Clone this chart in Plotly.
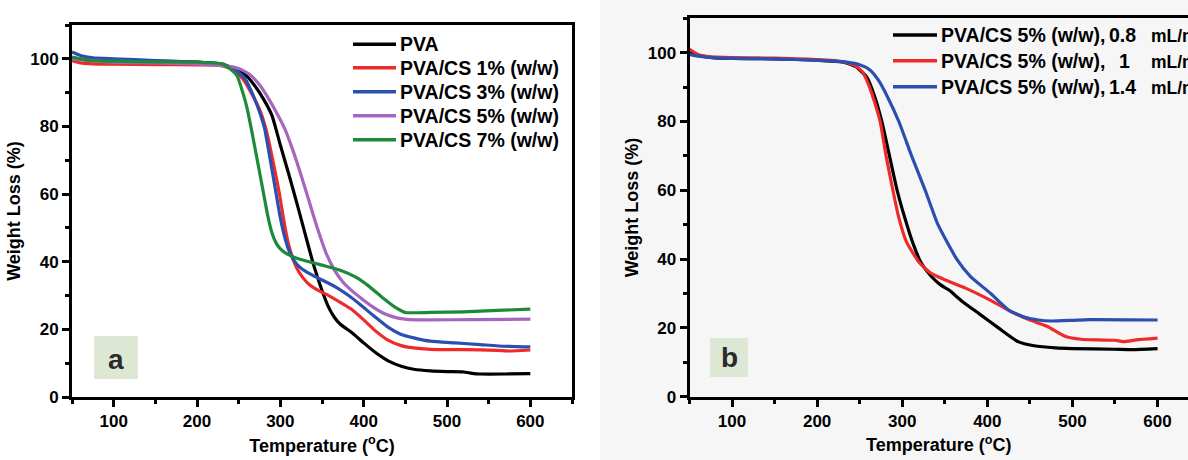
import plotly.graph_objects as go

# ---- Panel (a): TGA curves of PVA and PVA/CS films ----
T_pva = [50, 70, 100, 150, 200, 225, 240, 250, 260, 270, 280, 290, 300, 310, 320, 330, 340, 350,
         358, 365, 372, 386, 400, 415, 430, 446, 460, 480, 500, 520, 530, 540, 570, 600]
W_pva = [100.2, 99.7, 99.5, 99.3, 99.0, 98.5, 97.6, 96.6, 94.8, 91.8, 88.0, 83.2, 74.5, 66.0, 57.2,
         48.0, 39.0, 31.5, 26.5, 23.5, 21.5, 19.0, 16.0, 13.0, 10.6, 9.0, 8.2, 7.7, 7.5, 7.4, 7.0,
         6.8, 6.8, 6.9]

T_cs1 = [50, 60, 75, 100, 150, 200, 230, 245, 255, 265, 276, 283, 291, 299, 305, 310, 315, 320,
         327, 335, 345, 358, 372, 385, 400, 412, 428, 445, 460, 480, 520, 560, 575, 600]
W_cs1 = [99.5, 98.8, 98.5, 98.4, 98.3, 98.2, 98.0, 96.5, 94.0, 90.0, 84.5, 79.0, 70.0, 60.0, 51.0,
         45.0, 41.0, 38.0, 35.3, 33.2, 31.6, 30.0, 28.0, 26.0, 22.8, 20.0, 17.0, 15.2, 14.5, 14.1,
         14.0, 13.8, 13.6, 13.9]

T_cs3 = [50, 60, 75, 100, 150, 200, 230, 245, 258, 266, 274, 281, 288, 295, 300, 305, 310, 316,
         323, 330, 340, 355, 370, 382, 395, 412, 430, 445, 460, 480, 510, 540, 570, 600]
W_cs3 = [102.0, 101.0, 100.3, 100.0, 99.5, 99.0, 98.5, 97.0, 94.0, 90.0, 85.0, 79.5, 70.0, 60.0,
         53.0, 47.5, 43.5, 40.5, 38.5, 37.2, 35.8, 34.0, 32.0, 30.0, 27.5, 24.0, 20.5, 18.5, 17.5,
         16.5, 16.0, 15.5, 15.0, 14.8]

T_cs5 = [50, 100, 150, 200, 230, 245, 255, 265, 275, 285, 295, 305, 315, 325, 335, 345, 355, 365,
         375, 385, 395, 410, 425, 440, 455, 480, 530, 600]
W_cs5 = [100.0, 99.0, 98.8, 98.5, 98.0, 97.5, 96.6, 95.0, 92.3, 88.6, 84.3, 79.5, 73.0, 65.5, 57.5,
         49.5, 42.5, 37.5, 34.0, 31.6, 29.6, 26.8, 24.6, 23.4, 22.9, 22.8, 22.9, 23.0]

T_cs7 = [50, 70, 100, 150, 200, 230, 240, 248, 255, 260, 265, 272, 280, 285, 290, 295, 300, 308,
         318, 330, 350, 372, 390, 405, 422, 438, 450, 480, 520, 560, 600]
W_cs7 = [100.5, 99.5, 99.3, 99.1, 99.0, 98.5, 97.0, 95.0, 90.0, 85.5, 79.5, 70.5, 60.0, 53.5, 48.5,
         45.5, 43.8, 42.3, 41.2, 40.3, 39.0, 37.5, 35.5, 33.0, 29.5, 26.5, 25.0, 25.0, 25.2, 25.6,
         26.0]

# ---- Panel (b): PVA/CS 5% (w/w) at different flow rates ----
T_f08 = [50, 65, 80, 150, 200, 230, 245, 258, 268, 276, 285, 294, 303, 312, 322, 334, 345, 355,
         369, 391, 413, 436, 455, 480, 500, 550, 570, 600]
W_f08 = [100.0, 99.0, 98.5, 98.2, 97.8, 97.3, 96.0, 93.0, 87.0, 80.0, 70.0, 60.0, 52.0, 45.0, 39.0,
         35.0, 32.5, 31.0, 28.0, 24.0, 20.0, 16.0, 14.8, 14.2, 14.0, 13.8, 13.7, 14.0]

T_f10 = [50, 60, 75, 150, 200, 230, 245, 253, 260, 267, 274, 281, 289, 296, 305, 320, 333, 350,
         375, 400, 426, 448, 470, 492, 510, 530, 550, 560, 575, 600]
W_f10 = [101.0, 99.5, 98.8, 98.4, 98.0, 97.4, 96.2, 94.5, 91.0, 86.0, 80.0, 70.0, 60.0, 52.0, 45.0,
         39.0, 36.0, 34.0, 31.5, 28.5, 25.0, 22.5, 20.5, 17.5, 16.7, 16.5, 16.4, 16.0, 16.5, 17.0]

T_f14 = [50, 60, 80, 150, 200, 230, 250, 262, 272, 283, 296, 311, 327, 342, 364, 380, 404, 426,
         445, 460, 475, 500, 520, 600]
W_f14 = [99.5, 99.0, 98.5, 98.2, 97.8, 97.4, 96.5, 95.0, 92.0, 87.0, 80.0, 70.0, 60.0, 50.0, 40.0,
         35.0, 30.0, 25.0, 23.0, 22.3, 22.0, 22.2, 22.4, 22.3]

names_a = ["PVA", "PVA/CS 1% (w/w)", "PVA/CS 3% (w/w)", "PVA/CS 5% (w/w)", "PVA/CS 7% (w/w)"]
names_b_head = ["PVA/CS 5% (w/w),", "PVA/CS 5% (w/w),", "PVA/CS 5% (w/w),"]
flow_labels = ["0.8", "1", "1.4"]
flow_unit = "mL/min"

colors_a = ["#000000", "#ee2a2a", "#2a4fb0", "#a566bf", "#1d8a3a"]
colors_b = ["#000000", "#ee2a2a", "#2a4fb0"]

W, H = 1188, 460
FONT = "Liberation Sans, Arial, sans-serif"


def px(x):
    return x / W


def py(y):
    return 1 - y / H


fig = go.Figure()

series_a = [(T_pva, W_pva), (T_cs1, W_cs1), (T_cs3, W_cs3), (T_cs5, W_cs5), (T_cs7, W_cs7)]
for (t, w), name, c in zip(series_a, names_a, colors_a):
    fig.add_trace(go.Scatter(x=t, y=w, mode="lines", name=name, showlegend=False,
                             line=dict(color=c, width=3.2, shape="spline", smoothing=0.5),
                             xaxis="x", yaxis="y"))

series_b = [(T_f08, W_f08), (T_f10, W_f10), (T_f14, W_f14)]
for (t, w), lab, c in zip(series_b, flow_labels, colors_b):
    fig.add_trace(go.Scatter(x=t, y=w, mode="lines", name=lab, showlegend=False,
                             line=dict(color=c, width=3.2, shape="spline", smoothing=0.5),
                             xaxis="x2", yaxis="y2"))

tickfont = dict(family=FONT, size=17, color="black", weight="bold")
titlefont = dict(family=FONT, size=18, color="black", weight="bold")


def xax(domain, rng, anchor):
    return dict(domain=domain, range=rng, anchor=anchor, tickmode="linear", tick0=100, dtick=100,
                ticks="outside", ticklen=7, tickwidth=2.5, tickcolor="black",
                minor=dict(tick0=50, dtick=50, ticks="outside", ticklen=4, tickwidth=2.5,
                           tickcolor="black"),
                showline=True, linewidth=3, linecolor="black", mirror=True,
                showgrid=False, zeroline=False, tickfont=tickfont,
                title=dict(text="Temperature (<sup>o</sup>C)", font=titlefont, standoff=9))


def yax(domain, anchor, mirror):
    return dict(domain=domain, range=[0, 110], anchor=anchor, tickmode="linear", tick0=0, dtick=20,
                ticks="outside", ticklen=7, tickwidth=2.5, tickcolor="black",
                minor=dict(tick0=0, dtick=10, ticks="outside", ticklen=4, tickwidth=2.5,
                           tickcolor="black"),
                showline=True, linewidth=3, linecolor="black", mirror=mirror,
                showgrid=False, zeroline=False, tickfont=tickfont,
                title=dict(text="Weight Loss (%)", font=titlefont, standoff=5))


fig.update_layout(
    width=W, height=H,
    margin=dict(l=0, r=0, t=0, b=0, autoexpand=False),
    paper_bgcolor="white", plot_bgcolor="rgba(0,0,0,0)",
    xaxis=xax([px(72), px(572)], [50, 650], "y"),
    yaxis=yax([py(397), py(25)], "x", True),
    xaxis2=xax([px(689.5), 1.0], [50, 635.8], "y2"),
    yaxis2=yax([py(396.7), py(18.3)], "x2", False),
)

shapes = [
    # light grey backdrop behind panel (b)
    dict(type="rect", xref="paper", yref="paper", x0=px(600), x1=1, y0=0, y1=1,
         fillcolor="#f6f6f6", line=dict(width=0), layer="below"),
    # panel label boxes
    dict(type="rect", xref="paper", yref="paper", x0=px(94), x1=px(138), y0=py(379), y1=py(336),
         fillcolor="#dde8d4", line=dict(width=0), layer="below"),
    dict(type="rect", xref="paper", yref="paper", x0=px(710), x1=px(748), y0=py(377), y1=py(338),
         fillcolor="#dde8d4", line=dict(width=0), layer="below"),
]
annotations = [
    dict(text="a", xref="paper", yref="paper", x=px(116), y=py(359), showarrow=False,
         xanchor="center", yanchor="middle",
         font=dict(family=FONT, size=28, color="#2b2b2b", weight="bold")),
    dict(text="b", xref="paper", yref="paper", x=px(729), y=py(357), showarrow=False,
         xanchor="center", yanchor="middle",
         font=dict(family=FONT, size=28, color="#2b2b2b", weight="bold")),
]

# legend of panel (a)
rows_a = [44.3, 67.7, 91.7, 115.7, 139.7]
for name, c, yy in zip(names_a, colors_a, rows_a):
    shapes.append(dict(type="line", xref="paper", yref="paper", x0=px(353), x1=px(396),
                       y0=py(yy), y1=py(yy), line=dict(color=c, width=3.5)))
    annotations.append(dict(text=name, xref="paper", yref="paper", x=px(398), y=py(yy),
                            xanchor="left", yanchor="middle", showarrow=False,
                            font=dict(family=FONT, size=19.5, color="black", weight="bold")))

# legend of panel (b)
legfont_b = dict(family=FONT, size=19.5, color="black", weight="bold")
rows_b = [35.0, 60.7, 86.7]
for head, lab, c, yy in zip(names_b_head, flow_labels, colors_b, rows_b):
    shapes.append(dict(type="line", xref="paper", yref="paper", x0=px(893), x1=px(937),
                       y0=py(yy), y1=py(yy), line=dict(color=c, width=3.5)))
    annotations.append(dict(text=head, xref="paper", yref="paper", x=px(939), y=py(yy),
                            xanchor="left", yanchor="middle", showarrow=False, font=legfont_b))
    if lab == "1":
        annotations.append(dict(text=lab, xref="paper", yref="paper", x=px(1124), y=py(yy),
                                xanchor="center", yanchor="middle", showarrow=False,
                                font=legfont_b))
    else:
        annotations.append(dict(text=lab, xref="paper", yref="paper", x=px(1107), y=py(yy),
                                xanchor="left", yanchor="middle", showarrow=False,
                                font=legfont_b))
    annotations.append(dict(text=flow_unit, xref="paper", yref="paper", x=px(1149), y=py(yy + 1),
                            xanchor="left", yanchor="middle", showarrow=False,
                            font=dict(family=FONT, size=17.5, color="black", weight="bold")))

fig.update_layout(shapes=shapes, annotations=annotations)
fig.write_html("out.html")
